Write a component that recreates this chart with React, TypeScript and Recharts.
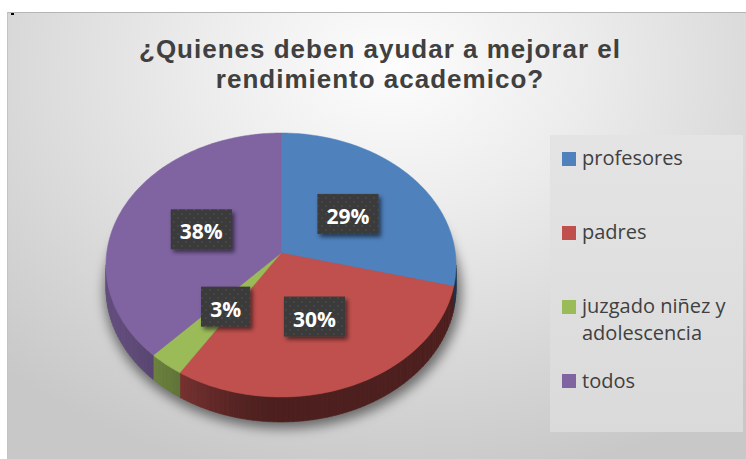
import React from 'react';
import { PieChart, Pie, Legend } from 'recharts';

// ---- data ----
const CATEGORIES = ['profesores', 'padres', 'juzgado niñez y adolescencia', 'todos'];
const VALUES = [29, 30, 3, 38];
const TITLE_LINES = ['¿Quienes deben ayudar a mejorar el', 'rendimiento academico?'];

// ---- styles ----
const COLORS = ['#4f81bd', '#c0504d', '#9bbb59', '#8064a2'];
const data = CATEGORIES.map((name, i) => ({ name, value: VALUES[i] }));

const K = 0.0909; // perspective strength
const Y_RATIO = 0.751; // vertical squash of the disk
const DEPTH = 22.7; // thickness of the 3D pie
const TV0 = (Math.acos(-K) * 180) / Math.PI; // visible side range (clockwise from top)
const TV1 = 360 - TV0;

function project(cx: number, cy: number, R: number, tDeg: number, r: number) {
  const t = (tDeg * Math.PI) / 180;
  const u = r * Math.sin(t);
  const v = -r * Math.cos(t);
  const s = 1 / (1 - K * v);
  return { x: cx + R * u * s, y: cy + R * Y_RATIO * v * s, s };
}

function shade(hex: string, f: number) {
  const n = parseInt(hex.slice(1), 16);
  const r = Math.round(((n >> 16) & 255) * f);
  const g = Math.round(((n >> 8) & 255) * f);
  const b = Math.round((n & 255) * f);
  return `rgb(${r},${g},${b})`;
}

function sideFactor(t: number) {
  if (t <= 180) return 0.4;
  const x = (t - 180) / 35;
  return 0.4 + 0.38 * (1 - Math.exp(-x * x));
}

const renderShadow = (props: any) => {
  if (props.index !== 0) return null;
  const { cx, cy, outerRadius } = props;
  let d = '';
  for (let j = 0; j <= 120; j++) {
    const p = project(cx, cy, outerRadius * 1.02, j * 3, 1);
    const y = p.y + DEPTH * p.s * 0.95 + 5;
    d += (j ? 'L' : 'M') + (p.x + 2).toFixed(2) + ',' + y.toFixed(2);
  }
  return <path d={d + 'Z'} fill="rgba(0,0,0,0.5)" filter="url(#pieShadow)" />;
};

const renderSlice = (props: any) => {
  const { cx, cy, outerRadius, startAngle, endAngle, index } = props;
  const color = COLORS[index % COLORS.length];
  const t0 = 90 - startAngle;
  const t1 = 90 - endAngle;
  const R = outerRadius;
  const els: any[] = [];
  const a = Math.max(t0, TV0);
  const b = Math.min(t1, TV1);
  if (b > a) {
    const n = Math.max(1, Math.ceil((b - a) / 1.5));
    for (let j = 0; j < n; j++) {
      const ta = a + ((b - a) * j) / n;
      const tb = a + ((b - a) * (j + 1)) / n;
      const p1 = project(cx, cy, R, ta, 1);
      const p2 = project(cx, cy, R, tb, 1);
      const c = shade(color, sideFactor((ta + tb) / 2));
      els.push(
        <path
          key={'s' + j}
          d={`M${p1.x},${p1.y}L${p2.x},${p2.y}L${p2.x},${p2.y + DEPTH * p2.s}L${p1.x},${p1.y + DEPTH * p1.s}Z`}
          fill={c}
          stroke={c}
          strokeWidth={0.6}
        />
      );
    }
  }
  let d = `M${cx},${cy}`;
  const m = Math.max(2, Math.ceil(t1 - t0));
  for (let j = 0; j <= m; j++) {
    const p = project(cx, cy, R, t0 + ((t1 - t0) * j) / m, 1);
    d += `L${p.x.toFixed(2)},${p.y.toFixed(2)}`;
  }
  d += 'Z';
  els.push(<path key="top" d={d} fill={color} stroke={color} strokeWidth={0.5} strokeLinejoin="round" />);
  return <g>{els}</g>;
};

const renderBox = (props: any) => {
  const { cx, cy, outerRadius, midAngle, percent } = props;
  const p = project(cx, cy, outerRadius, 90 - midAngle, 0.5);
  const txt = `${Math.round(percent * 100)}%`;
  const tw = Array.from(txt).reduce((s, ch) => s + (ch === '%' ? 18.2 : 12), 0);
  const w = tw + 19;
  const h = 40;
  return (
    <g>
      <rect x={p.x - w / 2} y={p.y - h / 2} width={w} height={h} fill="url(#dots)" filter="url(#boxShadow)" />
      <text
        x={p.x}
        y={p.y + 10}
        textAnchor="middle"
        fill="#ffffff"
        fontFamily="'Open Sans', sans-serif"
        fontWeight={700}
        fontSize={21}
      >
        {txt}
      </text>
    </g>
  );
};

const renderLegend = () => (
  <div
    style={{
      position: 'relative',
      width: 193,
      height: 297,
      background: 'linear-gradient(180deg, #e4e4e4 0%, #dedede 60%, #dadada 100%)',
      fontFamily: "'Open Sans', sans-serif",
      color: '#404040',
    }}
  >
    {CATEGORIES.map((name, i) => (
      <div key={name}>
        <div
          style={{
            position: 'absolute',
            left: 12,
            top: 16.5 + 74.3 * i,
            width: 14,
            height: 14,
            background: COLORS[i],
          }}
        />
        <div
          style={{
            position: 'absolute',
            left: 32,
            top: 8.7 + 74.3 * i,
            width: 158,
            fontSize: 20,
            lineHeight: '27px',
          }}
        >
          {name}
        </div>
      </div>
    ))}
  </div>
);

export default function App() {
  return (
    <div
      style={{
        position: 'absolute',
        left: 0,
        top: 0,
        width: 746,
        height: 459,
        background: '#ffffff',
        overflow: 'hidden',
      }}
    >
      <svg width={0} height={0} style={{ position: 'absolute' }}>
        <defs>
          <pattern id="dots" width="8" height="8" patternUnits="userSpaceOnUse">
            <rect width="8" height="8" fill="#3b3b3b" />
            <circle cx="2" cy="2" r="1" fill="#484848" />
            <circle cx="6" cy="6" r="1" fill="#484848" />
          </pattern>
          <filter id="boxShadow" x="-30%" y="-30%" width="170%" height="180%">
            <feDropShadow dx="2.5" dy="3" stdDeviation="2" floodColor="#000" floodOpacity="0.55" />
          </filter>
          <filter id="pieShadow" x="-20%" y="-20%" width="140%" height="150%">
            <feGaussianBlur stdDeviation="6" />
          </filter>
        </defs>
      </svg>
      <div
        style={{
          position: 'absolute',
          left: 7,
          top: 12,
          width: 739,
          height: 447,
          boxSizing: 'border-box',
          borderTop: '1px solid #b5b5b5',
          borderLeft: '1px solid #c4c4c4',
          background:
            'radial-gradient(ellipse 75% 95% at 52% 12%, #fdfdfd 0%, #ececec 35%, #d8d8d8 70%, #c8c8c8 100%)',
        }}
      />
      <div style={{ position: 'absolute', left: 11, top: 13, width: 3, height: 2, background: '#000' }} />
      <div
        style={{
          position: 'absolute',
          left: 10,
          top: 34,
          width: 740,
          textAlign: 'center',
          fontFamily: "'Liberation Sans', Arial, sans-serif",
          fontWeight: 700,
          fontSize: 26,
          lineHeight: '30px',
          letterSpacing: 1,
          color: '#404040',
        }}
      >
        {TITLE_LINES.map((l) => (
          <div key={l}>{l}</div>
        ))}
      </div>
      <div style={{ position: 'absolute', left: 0, top: 0 }}>
        <PieChart width={746} height={459} margin={{ top: 0, right: 0, bottom: 0, left: 0 }}>
          <Pie
            data={data}
            dataKey="value"
            nameKey="name"
            cx={281}
            cy={253}
            outerRadius={174.3}
            startAngle={90}
            endAngle={-270}
            fill="transparent"
            stroke="none"
            legendType="none"
            isAnimationActive={false}
            labelLine={false}
            label={renderShadow}
          />
          <Pie
            data={data}
            dataKey="value"
            nameKey="name"
            cx={281}
            cy={253}
            outerRadius={174.3}
            startAngle={90}
            endAngle={-270}
            fill="transparent"
            stroke="none"
            isAnimationActive={false}
            labelLine={false}
            label={renderSlice}
          />
          <Pie
            data={data}
            dataKey="value"
            nameKey="name"
            cx={281}
            cy={253}
            outerRadius={174.3}
            startAngle={90}
            endAngle={-270}
            fill="transparent"
            stroke="none"
            legendType="none"
            isAnimationActive={false}
            labelLine={false}
            label={renderBox}
          />
          <Legend
            content={renderLegend}
            wrapperStyle={{ position: 'absolute', left: 550, top: 135, width: 193, height: 297 }}
          />
        </PieChart>
      </div>
    </div>
  );
}
